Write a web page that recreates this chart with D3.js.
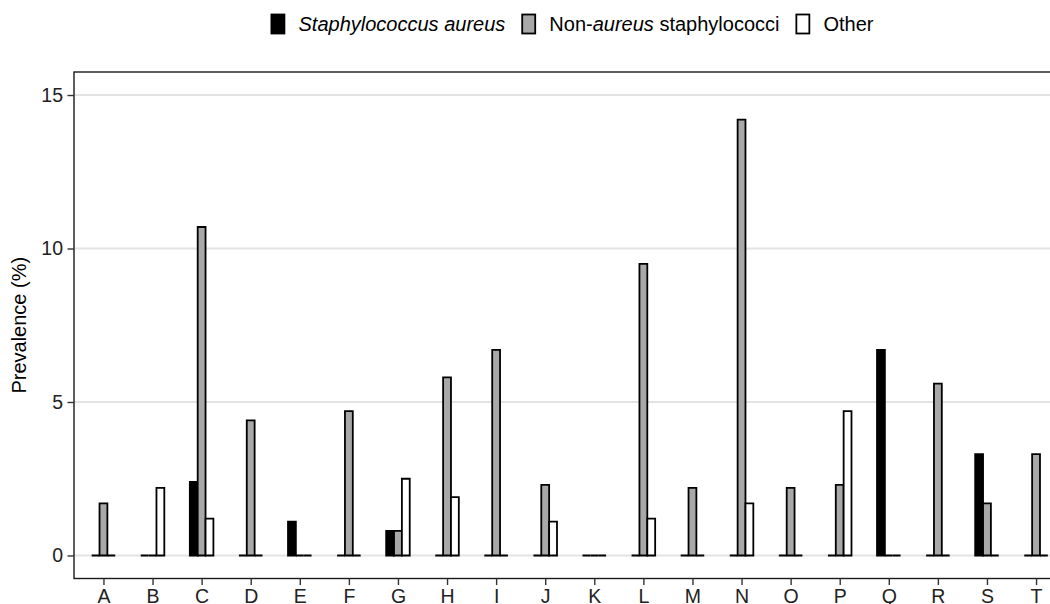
<!DOCTYPE html>
<html>
<head>
<meta charset="utf-8">
<script src="https://cdn.jsdelivr.net/npm/d3@7"></script>
<style>
  html, body { margin: 0; padding: 0; background: #fff; }
  svg { display: block; font-family: "Liberation Sans", Arial, sans-serif; }
</style>
</head>
<body>
<svg id="chart" width="1050" height="604"></svg>
<script>
// ---- data ----
const categories = ["A","B","C","D","E","F","G","H","I","J","K","L","M","N","O","P","Q","R","S","T"];
const seriesNames = ["Staphylococcus aureus", "Non-aureus staphylococci", "Other"];
const staphAureus = [0, 0, 2.4, 0, 1.1, 0, 0.8, 0, 0, 0, 0, 0, 0, 0, 0, 0, 6.7, 0, 3.3, 0];
const nonAureus   = [1.7, 0, 10.7, 4.4, 0, 4.7, 0.8, 5.8, 6.7, 2.3, 0, 9.5, 2.2, 14.2, 2.2, 2.3, 0, 5.6, 1.7, 3.3];
const other       = [0, 2.2, 1.2, 0, 0, 0, 2.5, 1.9, 0, 1.1, 0, 1.2, 0, 1.7, 0, 4.7, 0, 0, 0, 0];
const yTicks = [0, 5, 10, 15];

const seriesValues = [staphAureus, nonAureus, other];
const fills = ["#000000", "#a8a8a8", "#ffffff"];

// ---- layout ----
const svg = d3.select("#chart");
const panel = { left: 74, top: 72, right: 1065.5, bottom: 578.5 };
const FONT = 19.5;
const LFONT = 20;

const x = d3.scalePoint().domain(categories).range([panel.left, panel.right]).padding(0.6);
const y = d3.scaleLinear().domain([-0.75, 15.75]).range([panel.bottom, panel.top]);

const groupW = x.step() * 0.48;
const sub = d3.scaleBand().domain(seriesNames).range([-groupW / 2, groupW / 2]);

// gridlines
svg.append("g").selectAll("line").data(yTicks).join("line")
  .attr("x1", panel.left).attr("x2", panel.right)
  .attr("y1", d => y(d)).attr("y2", d => y(d))
  .attr("stroke", "#e3e3e3").attr("stroke-width", 2);

// bars
const flat = [];
categories.forEach((c, i) => {
  seriesNames.forEach((s, j) => flat.push({ c, s, j, v: seriesValues[j][i] }));
});
svg.append("g").selectAll("path").data(flat).join("path")
  .attr("d", d => {
    const x0 = x(d.c) + sub(d.s), w = sub.bandwidth();
    const y0 = y(0), y1 = y(d.v);
    return `M${x0},${y0}H${x0 + w}V${y1}H${x0}Z`;
  })
  .attr("fill", d => fills[d.j])
  .attr("stroke", "#000").attr("stroke-width", 1.8)
  .attr("stroke-linejoin", "miter");

// panel border
svg.append("rect")
  .attr("x", panel.left).attr("y", panel.top)
  .attr("width", panel.right - panel.left).attr("height", panel.bottom - panel.top)
  .attr("fill", "none").attr("stroke", "#1a1a1a").attr("stroke-width", 1.4);

// axes
const yAxis = d3.axisLeft(y).tickValues(yTicks).tickSize(6.5).tickPadding(4.5);
const gy = svg.append("g").attr("transform", `translate(${panel.left},0)`).call(yAxis);
gy.select(".domain").remove();
gy.selectAll(".tick line").attr("stroke", "#333").attr("stroke-width", 1.4);
gy.selectAll(".tick text").attr("fill", "#222").attr("font-size", FONT).attr("font-family", "Liberation Sans, Arial, sans-serif");

const xAxis = d3.axisBottom(x).tickSize(6.5).tickPadding(4);
const gx = svg.append("g").attr("transform", `translate(0,${panel.bottom})`).call(xAxis);
gx.select(".domain").remove();
gx.selectAll(".tick line").attr("stroke", "#333").attr("stroke-width", 1.4);
gx.selectAll(".tick text").attr("fill", "#222").attr("font-size", FONT).attr("font-family", "Liberation Sans, Arial, sans-serif");

// y-axis title
svg.append("text")
  .attr("transform", `translate(25.5,${(panel.top + panel.bottom) / 2}) rotate(-90)`)
  .attr("text-anchor", "middle")
  .attr("font-size", LFONT).attr("fill", "#000")
  .text("Prevalence (%)");

// legend
const legendParts = [
  [{ t: "Staphylococcus aureus", it: true }],
  [{ t: "Non-", it: false }, { t: "aureus", it: true }, { t: " staphylococci", it: false }],
  [{ t: "Other", it: false }]
];
const lg = svg.append("g");
const keyW = 13, keyH = 19, keyGap = 15, itemGap = 16, legendCY = 24;
let cursor = 0;
legendParts.forEach((parts, j) => {
  const g = lg.append("g");
  g.append("rect").attr("x", 0.9).attr("y", legendCY - keyH / 2)
    .attr("width", keyW).attr("height", keyH)
    .attr("fill", fills[j]).attr("stroke", "#000").attr("stroke-width", 1.8);
  const txt = g.append("text").attr("x", keyW + keyGap).attr("y", legendCY + LFONT * 0.35)
    .attr("font-size", LFONT).attr("fill", "#000");
  parts.forEach(p => {
    txt.append("tspan").attr("font-style", p.it ? "italic" : "normal").text(p.t);
  });
  const w = keyW + keyGap + txt.node().getComputedTextLength();
  g.attr("transform", `translate(${cursor},0)`);
  cursor += w + itemGap;
});
const totalW = cursor - itemGap;
lg.attr("transform", `translate(${572 - totalW / 2},0)`);
</script>
</body>
</html>
